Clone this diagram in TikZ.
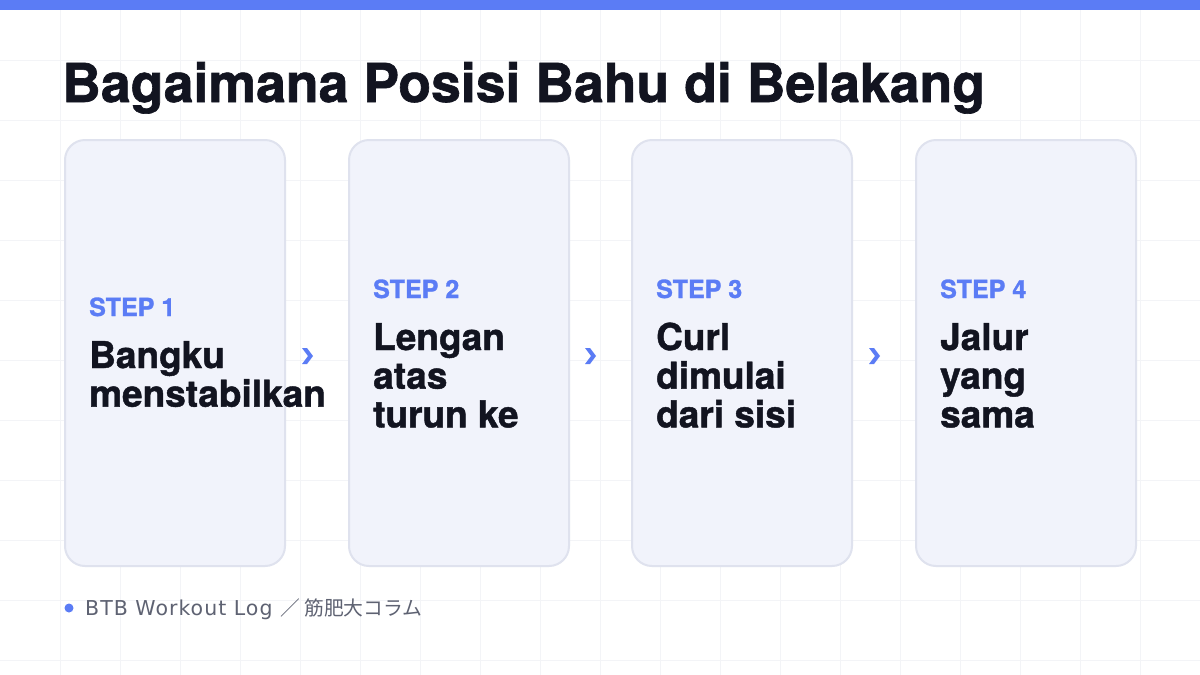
\documentclass[tikz,border=0pt]{standalone}
\usepackage{fontspec}
\setmainfont{TeX Gyre Heros}
\newfontfamily\headfont[FakeBold=1.2]{TeX Gyre Heros Bold}
\newfontfamily\footfont[LetterSpace=5]{DejaVu Sans}
\newfontfamily\jpfont{Noto Sans CJK JP}
\definecolor{accent}{HTML}{5B7CF5}
\definecolor{ink}{HTML}{121420}
\definecolor{cardfill}{HTML}{F1F3FB}
\definecolor{cardline}{HTML}{DFE2EE}
\definecolor{gridline}{HTML}{F3F4F7}
\definecolor{muted}{HTML}{5E6272}
\begin{document}
\begin{tikzpicture}[x=1pt,y=-1pt,inner sep=0pt,
  card/.style={draw=cardline,fill=cardfill,line width=2pt,rounded corners=20pt,minimum width=220pt,minimum height=426pt},
  steptag/.style={anchor=base west,text=accent,font=\fontsize{25}{25}\selectfont\headfont},
  cardtext/.style={anchor=base west,text=ink,font=\fontsize{37}{37}\selectfont\headfont}]
  \useasboundingbox (0,0) rectangle (1200,675);
  \fill[white] (0,0) rectangle (1200,675);
  \foreach \gx in {60,120,...,1140} {\draw[gridline] (\gx,0) -- (\gx,675);}
  \foreach \gy in {60,120,...,660} {\draw[gridline] (0,\gy) -- (1200,\gy);}
  \fill[accent] (0,0) rectangle (1200,10);
  \node[anchor=base west,text=ink,font=\fontsize{53.6}{54}\selectfont\headfont] (title) at (62,102) {Bagaimana Posisi Bahu di Belakang};
  % cards with step tag and text lines
  \foreach \n/\cx in {1/175,2/459,3/742,4/1026}
  {\node[card] (card\n) at (\cx,353) {};}
  \foreach \n/\tx/\ty/\lines in {1/89/368/{Bangku,menstabilkan},2/373/350/{Lengan,atas,turun ke},3/656/350/{Curl,dimulai,dari sisi},4/940/350/{Jalur,yang,sama}}
  {\node[steptag] (step\n) at (\tx,{\ty-52}) {STEP \n};
    \foreach [count=\k] \txt in \lines
    {\node[cardtext] (text\n-\k) at (\tx,{\ty+(\k-1)*38.7}) {\txt};}}
  % chevrons between cards
  \foreach \n/\gx in {1/307,2/590,3/874}
  {\coordinate (arrow\n) at (\gx,356);
    \fill[accent] (arrow\n) ++(-5,-8) -- ++(5,0) -- ++(6,8) -- ++(-6,8) -- ++(-5,0) -- ++(6,-8) -- cycle;}
  \node[circle,fill=accent,minimum size=9pt] (dot) at (69,608) {};
  \node[anchor=base west,text=muted,font=\footfont\fontsize{20.5}{21}\selectfont] (source) at (85,615) {BTB Workout Log {\jpfont\fontsize{19.8}{21}\selectfont ／ 筋肥大コラム}};
\end{tikzpicture}
\end{document}
